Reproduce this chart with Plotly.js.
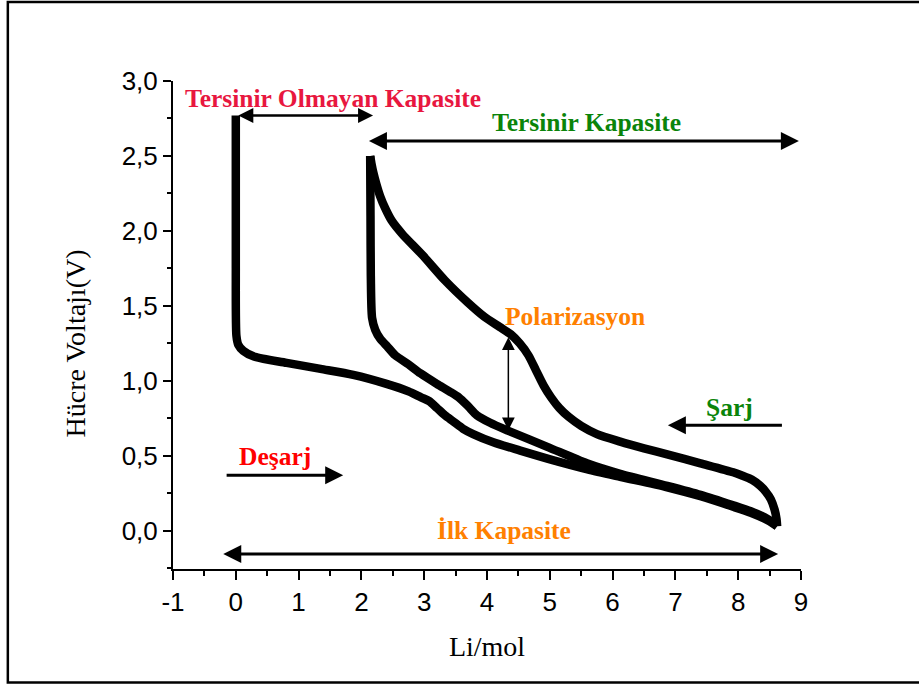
<!DOCTYPE html>
<html>
<head>
<meta charset="utf-8">
<script src="https://cdn.plot.ly/plotly-3.0.1.min.js"></script>
<style>
  html, body { margin: 0; padding: 0; background: #ffffff; }
  #chart { width: 919px; height: 684px; }
</style>
</head>
<body>
<div id="chart"></div>
<script>
// ---- Data ----
// First discharge (irreversible + reversible)
var discharge1X = [0, 0, 0.01, 0.04, 0.12, 0.3, 0.81, 1.35, 1.87, 2.4, 2.75, 2.95, 3.08, 3.2, 3.33, 3.46, 3.62, 3.78, 4.1, 4.53, 5.06, 5.6, 6.12, 6.87, 7.4, 7.92, 8.2, 8.42, 8.55, 8.62];
var discharge1Y = [2.77, 1.8, 1.3, 1.24, 1.2, 1.16, 1.12, 1.08, 1.04, 0.98, 0.93, 0.89, 0.865, 0.82, 0.77, 0.73, 0.68, 0.645, 0.59, 0.535, 0.47, 0.41, 0.36, 0.29, 0.23, 0.16, 0.12, 0.08, 0.05, 0.03];
// Charge
var chargeX = [8.62, 8.61, 8.58, 8.52, 8.44, 8.35, 8.22, 8.05, 7.92, 7.4, 6.87, 6.5, 6.12, 5.75, 5.5, 5.3, 5.15, 5.02, 4.9, 4.78, 4.66, 4.52, 4.38, 4.2, 3.95, 3.7, 3.33, 2.97, 2.65, 2.48, 2.38, 2.3, 2.24, 2.19, 2.16, 2.14];
var chargeY = [0.03, 0.08, 0.14, 0.21, 0.26, 0.3, 0.34, 0.37, 0.39, 0.45, 0.51, 0.55, 0.595, 0.645, 0.7, 0.76, 0.82, 0.89, 0.97, 1.07, 1.17, 1.25, 1.31, 1.36, 1.43, 1.52, 1.67, 1.84, 1.98, 2.07, 2.15, 2.23, 2.31, 2.39, 2.45, 2.5];
// Second discharge
var discharge2X = [2.14, 2.145, 2.15, 2.17, 2.22, 2.3, 2.41, 2.54, 2.75, 2.94, 3.2, 3.4, 3.55, 3.7, 3.84, 4.05, 4.32, 4.96, 5.59, 6.12, 6.87, 7.4, 7.92, 8.2, 8.42, 8.55, 8.62];
var discharge2Y = [2.5, 2.1, 1.7, 1.42, 1.34, 1.28, 1.23, 1.17, 1.11, 1.05, 0.98, 0.93, 0.89, 0.83, 0.77, 0.72, 0.67, 0.56, 0.45, 0.38, 0.3, 0.24, 0.17, 0.13, 0.09, 0.055, 0.03];

// Tick labels
var xTickVals = [-1, 0, 1, 2, 3, 4, 5, 6, 7, 8, 9];
var xTickText = ['-1', '0', '1', '2', '3', '4', '5', '6', '7', '8', '9'];
var yTickVals = [0, 0.5, 1.0, 1.5, 2.0, 2.5, 3.0];
var yTickText = ['0,0', '0,5', '1,0', '1,5', '2,0', '2,5', '3,0'];

// Annotation labels (text, x, y, colour)
var labelText = ['Tersinir Olmayan Kapasite', 'Tersinir Kapasite', 'Polarizasyon', 'Şarj', 'Deşarj', 'İlk Kapasite'];
var labelX = [1.54, 5.58, 5.40, 7.86, 0.63, 4.27];
var labelY = [2.885, 2.72, 1.43, 0.823, 0.498, 0.0];
var labelColor = ['#e8173f', '#0a840a', '#ff8000', '#0a840a', '#ff0000', '#ff8000'];

// Arrows: tail (x0,y0) -> head (x1,y1), sides
var arrowX0 = [2.21, 8.99, 4.34, 8.72, -0.17, 8.66];
var arrowY0 = [2.77, 2.60, 0.66, 0.704, 0.371, -0.155];
var arrowX1 = [0.04, 2.12, 4.34, 6.88, 1.71, -0.2];
var arrowY1 = [2.77, 2.60, 1.29, 0.704, 0.371, -0.155];
var arrowSide = ['end+start', 'end+start', 'end+start', 'end', 'end', 'end+start'];
var arrowWidth = [2.5, 3, 1.5, 3, 3, 3];

// Axis titles
var xTitle = 'Li/mol';
var yTitle = 'Hücre Voltajı(V)';

var lineStyle = {color: '#000000', width: 8.5, shape: 'spline', smoothing: 0.7};
var traces = [
  {x: discharge1X, y: discharge1Y, type: 'scatter', mode: 'lines', line: lineStyle, showlegend: false, hoverinfo: 'skip'},
  {x: chargeX, y: chargeY, type: 'scatter', mode: 'lines', line: lineStyle, showlegend: false, hoverinfo: 'skip'},
  {x: discharge2X, y: discharge2Y, type: 'scatter', mode: 'lines', line: lineStyle, showlegend: false, hoverinfo: 'skip'}
];

var annotations = [];
for (var i = 0; i < labelText.length; i++) {
  annotations.push({
    x: labelX[i], y: labelY[i], xref: 'x', yref: 'y',
    text: '<b>' + labelText[i] + '</b>', showarrow: false,
    font: {family: 'Liberation Serif, Times New Roman, serif', size: 25.5, color: labelColor[i]},
    xanchor: 'center', yanchor: 'middle'
  });
}
for (var j = 0; j < arrowX0.length; j++) {
  annotations.push({
    x: arrowX1[j], y: arrowY1[j], ax: arrowX0[j], ay: arrowY0[j],
    xref: 'x', yref: 'y', axref: 'x', ayref: 'y',
    text: '', showarrow: true, arrowhead: 2, arrowsize: (arrowWidth[j] < 2 ? 1.7 : 1.2),
    arrowwidth: arrowWidth[j], arrowcolor: '#000000', arrowside: arrowSide[j],
    standoff: 0, startstandoff: 0
  });
}
// y-axis title placed like the reference (slightly below the plot centre)
annotations.push({
  x: -0.156, y: 1.25, xref: 'paper', yref: 'y', textangle: -90,
  text: yTitle, showarrow: false, xanchor: 'center', yanchor: 'middle',
  font: {family: 'Liberation Serif, Times New Roman, serif', size: 28, color: '#000000'}
});

var layout = {
  width: 919, height: 684,
  margin: {l: 173, r: 118, t: 81, b: 115, pad: 0},
  paper_bgcolor: '#ffffff', plot_bgcolor: '#ffffff',
  showlegend: false,
  xaxis: {
    range: [-1, 9], showgrid: false, zeroline: false,
    showline: true, linecolor: '#000000', linewidth: 2, mirror: false,
    ticks: 'outside', ticklen: 9, tickwidth: 2, tickcolor: '#000000',
    tickvals: xTickVals, ticktext: xTickText,
    tickfont: {family: 'Liberation Sans, Arial, sans-serif', size: 26, color: '#000000'},
    minor: {dtick: 0.5, ticks: 'outside', ticklen: 5, tickwidth: 2, tickcolor: '#000000', showgrid: false},
    title: {text: xTitle, font: {family: 'Liberation Serif, Times New Roman, serif', size: 28, color: '#000000'}, standoff: 20},
    automargin: false
  },
  yaxis: {
    range: [-0.255, 3.0], showgrid: false, zeroline: false,
    showline: true, linecolor: '#000000', linewidth: 2, mirror: false,
    ticks: 'outside', ticklen: 8, tickwidth: 2, tickcolor: '#000000',
    tickvals: yTickVals, ticktext: yTickText,
    tickfont: {family: 'Liberation Sans, Arial, sans-serif', size: 26, color: '#000000'},
    minor: {dtick: 0.25, ticks: 'outside', ticklen: 4, tickwidth: 2, tickcolor: '#000000', showgrid: false},
    automargin: false
  },
  annotations: annotations,
  shapes: [{
    type: 'rect', xref: 'paper', yref: 'paper',
    x0: -0.263, x1: 1.2, y0: -0.2326, y1: 1.162,
    line: {color: '#000000', width: 2.5}, fillcolor: 'rgba(0,0,0,0)', layer: 'above'
  }]
};

Plotly.newPlot('chart', traces, layout, {staticPlot: true, displayModeBar: false});
</script>
</body>
</html>
